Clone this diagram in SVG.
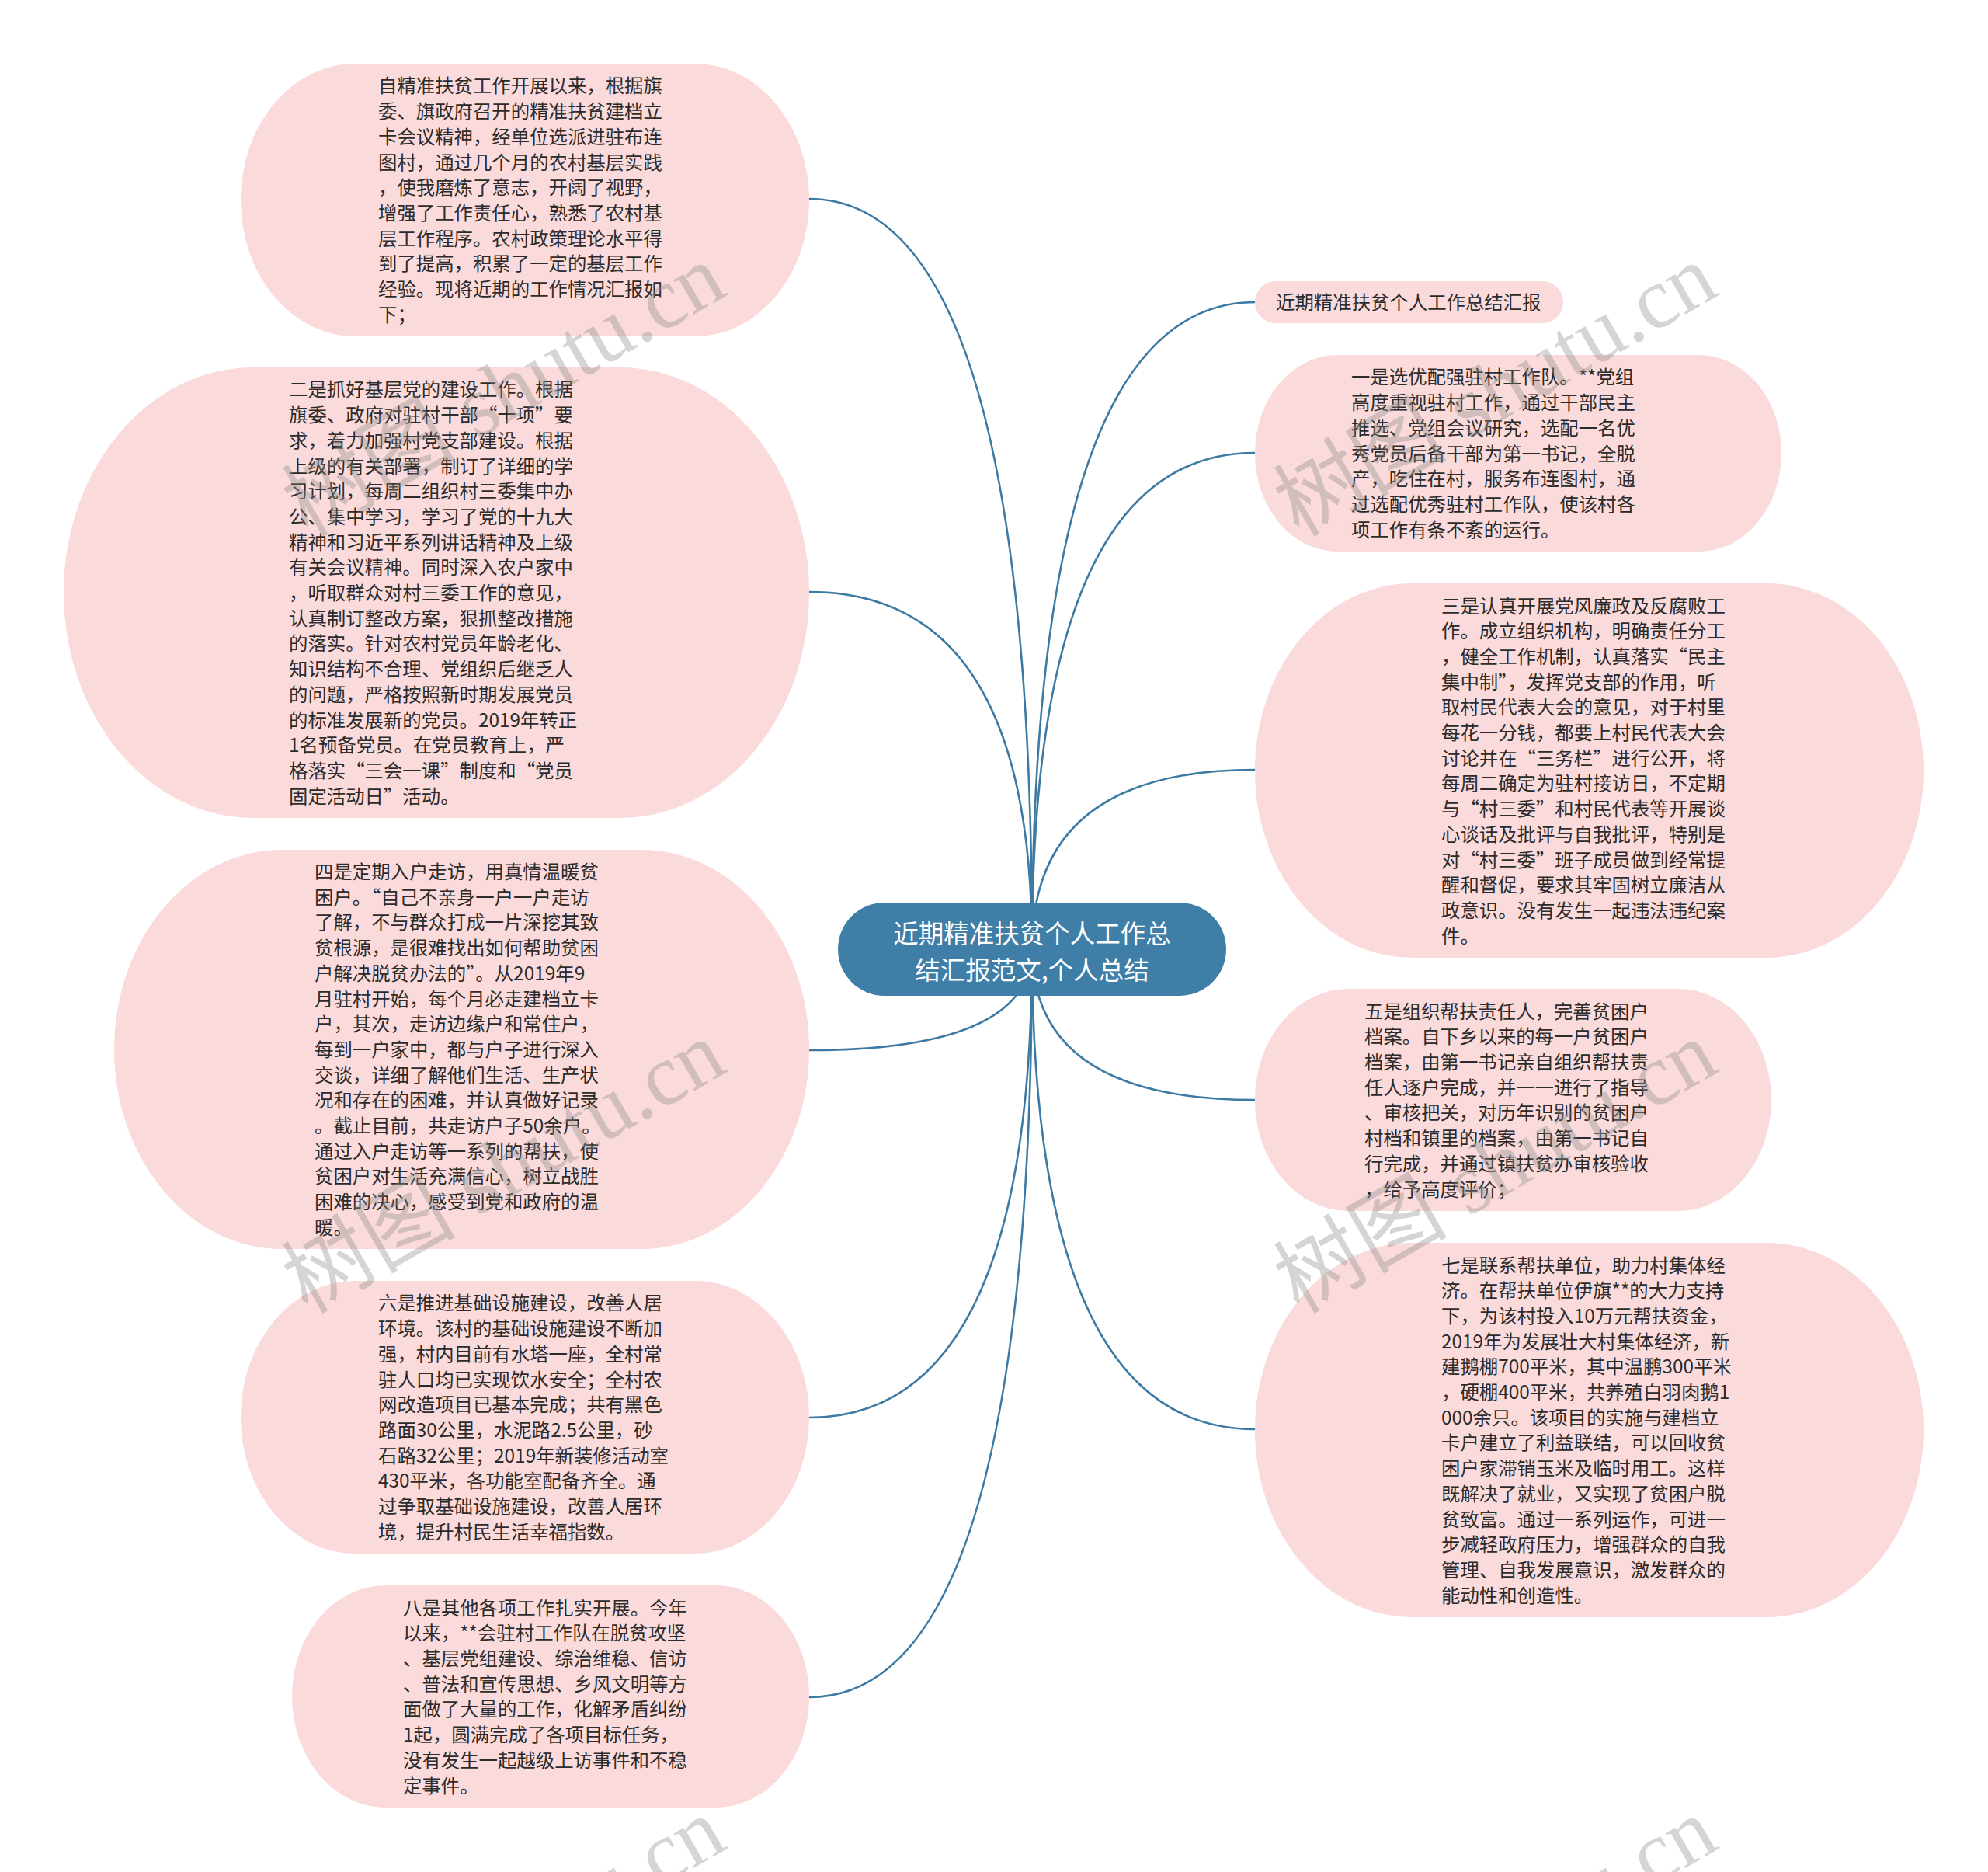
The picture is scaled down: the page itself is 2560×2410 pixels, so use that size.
<svg xmlns="http://www.w3.org/2000/svg" width="2560" height="2410" viewBox="0 0 2560 2410">
<style>
.node{fill:#fadada;}
.root{fill:#3f7ea6;}
.t{font-family:"Noto Sans CJK SC","Noto Sans",sans-serif;font-size:24.4px;fill:#2b2b2b;}
.rt{font-family:"Noto Sans CJK SC","Noto Sans",sans-serif;font-size:32.5px;fill:#ffffff;text-anchor:middle;}
.edge{fill:none;stroke:#3d7aa3;stroke-width:2.6;}
.wm{font-family:"Liberation Serif","Noto Sans CJK SC",serif;font-size:112px;fill:#8a8a8a;fill-opacity:0.36;text-anchor:middle;}
</style>
<rect x="0" y="0" width="2560" height="2410" fill="#ffffff"/>
<g id="connectors">
<path class="edge" d="M1329 1221 Q1329 256 1042 256"/>
<path class="edge" d="M1329 1221 Q1329 762 1042 762"/>
<path class="edge" d="M1329 1221 Q1329 1352 1042 1352"/>
<path class="edge" d="M1329 1221 Q1329 1825 1042 1825"/>
<path class="edge" d="M1329 1221 Q1329 2185 1042 2185"/>
<path class="edge" d="M1329 1221 Q1329 389 1616 389"/>
<path class="edge" d="M1329 1221 Q1329 583 1616 583"/>
<path class="edge" d="M1329 1221 Q1329 991 1616 991"/>
<path class="edge" d="M1329 1221 Q1329 1416 1616 1416"/>
<path class="edge" d="M1329 1221 Q1329 1840 1616 1840"/>
</g>
<g id="root">
<rect class="root" x="1079" y="1162" width="500" height="120" rx="60" ry="60"/>
<text class="rt" x="1329" y="1214">近期精准扶贫个人工作总</text>
<text class="rt" x="1329" y="1261">结汇报范文,个人总结</text>
</g>
<g id="n-left1">
<rect class="node" x="310" y="82" width="732" height="351" rx="147" ry="175.5"/>
<text class="t" x="487" y="119.4"><tspan x="487">自精准扶贫工作开展以来，根据旗</tspan><tspan x="487" dy="32.7">委、旗政府召开的精准扶贫建档立</tspan><tspan x="487" dy="32.7">卡会议精神，经单位选派进驻布连</tspan><tspan x="487" dy="32.7">图村，通过几个月的农村基层实践</tspan><tspan x="487" dy="32.7">，使我磨炼了意志，开阔了视野，</tspan><tspan x="487" dy="32.7">增强了工作责任心，熟悉了农村基</tspan><tspan x="487" dy="32.7">层工作程序。农村政策理论水平得</tspan><tspan x="487" dy="32.7">到了提高，积累了一定的基层工作</tspan><tspan x="487" dy="32.7">经验。现将近期的工作情况汇报如</tspan><tspan x="487" dy="32.7">下；</tspan></text>
</g>
<g id="n-left2">
<rect class="node" x="82" y="473" width="960" height="580" rx="244" ry="290"/>
<text class="t" x="372" y="510.4"><tspan x="372">二是抓好基层党的建设工作。根据</tspan><tspan x="372" dy="32.7">旗委、政府对驻村干部“十项”要</tspan><tspan x="372" dy="32.7">求，着力加强村党支部建设。根据</tspan><tspan x="372" dy="32.7">上级的有关部署，制订了详细的学</tspan><tspan x="372" dy="32.7">习计划，每周二组织村三委集中办</tspan><tspan x="372" dy="32.7">公、集中学习，学习了党的十九大</tspan><tspan x="372" dy="32.7">精神和习近平系列讲话精神及上级</tspan><tspan x="372" dy="32.7">有关会议精神。同时深入农户家中</tspan><tspan x="372" dy="32.7">，听取群众对村三委工作的意见，</tspan><tspan x="372" dy="32.7">认真制订整改方案，狠抓整改措施</tspan><tspan x="372" dy="32.7">的落实。针对农村党员年龄老化、</tspan><tspan x="372" dy="32.7">知识结构不合理、党组织后继乏人</tspan><tspan x="372" dy="32.7">的问题，严格按照新时期发展党员</tspan><tspan x="372" dy="32.7">的标准发展新的党员。2019年转正</tspan><tspan x="372" dy="32.7">1名预备党员。在党员教育上，严</tspan><tspan x="372" dy="32.7">格落实“三会一课”制度和“党员</tspan><tspan x="372" dy="32.7">固定活动日”活动。</tspan></text>
</g>
<g id="n-left3">
<rect class="node" x="147" y="1094" width="895" height="514" rx="216" ry="257"/>
<text class="t" x="405" y="1131"><tspan x="405">四是定期入户走访，用真情温暖贫</tspan><tspan x="405" dy="32.7">困户。“自己不亲身一户一户走访</tspan><tspan x="405" dy="32.7">了解，不与群众打成一片深挖其致</tspan><tspan x="405" dy="32.7">贫根源，是很难找出如何帮助贫困</tspan><tspan x="405" dy="32.7">户解决脱贫办法的”。从2019年9</tspan><tspan x="405" dy="32.7">月驻村开始，每个月必走建档立卡</tspan><tspan x="405" dy="32.7">户，其次，走访边缘户和常住户，</tspan><tspan x="405" dy="32.7">每到一户家中，都与户子进行深入</tspan><tspan x="405" dy="32.7">交谈，详细了解他们生活、生产状</tspan><tspan x="405" dy="32.7">况和存在的困难，并认真做好记录</tspan><tspan x="405" dy="32.7">。截止目前，共走访户子50余户。</tspan><tspan x="405" dy="32.7">通过入户走访等一系列的帮扶，使</tspan><tspan x="405" dy="32.7">贫困户对生活充满信心，树立战胜</tspan><tspan x="405" dy="32.7">困难的决心，感受到党和政府的温</tspan><tspan x="405" dy="32.7">暖。</tspan></text>
</g>
<g id="n-left4">
<rect class="node" x="310" y="1649" width="732" height="351" rx="147" ry="175.5"/>
<text class="t" x="487" y="1686.4"><tspan x="487">六是推进基础设施建设，改善人居</tspan><tspan x="487" dy="32.7">环境。该村的基础设施建设不断加</tspan><tspan x="487" dy="32.7">强，村内目前有水塔一座，全村常</tspan><tspan x="487" dy="32.7">驻人口均已实现饮水安全；全村农</tspan><tspan x="487" dy="32.7">网改造项目已基本完成；共有黑色</tspan><tspan x="487" dy="32.7">路面30公里，水泥路2.5公里，砂</tspan><tspan x="487" dy="32.7">石路32公里；2019年新装修活动室</tspan><tspan x="487" dy="32.7">430平米，各功能室配备齐全。通</tspan><tspan x="487" dy="32.7">过争取基础设施建设，改善人居环</tspan><tspan x="487" dy="32.7">境，提升村民生活幸福指数。</tspan></text>
</g>
<g id="n-left5">
<rect class="node" x="376" y="2041" width="666" height="286" rx="120" ry="143"/>
<text class="t" x="519" y="2078.6"><tspan x="519">八是其他各项工作扎实开展。今年</tspan><tspan x="519" dy="32.7">以来，**会驻村工作队在脱贫攻坚</tspan><tspan x="519" dy="32.7">、基层党组建设、综治维稳、信访</tspan><tspan x="519" dy="32.7">、普法和宣传思想、乡风文明等方</tspan><tspan x="519" dy="32.7">面做了大量的工作，化解矛盾纠纷</tspan><tspan x="519" dy="32.7">1起，圆满完成了各项目标任务，</tspan><tspan x="519" dy="32.7">没有发生一起越级上访事件和不稳</tspan><tspan x="519" dy="32.7">定事件。</tspan></text>
</g>
<g id="n-right1">
<rect class="node" x="1616" y="362" width="397" height="54" rx="27" ry="27"/>
<text class="t" x="1643" y="398">近期精准扶贫个人工作总结汇报</text>
</g>
<g id="n-right2">
<rect class="node" x="1616" y="457" width="678" height="253" rx="106" ry="126.5"/>
<text class="t" x="1740" y="494.4"><tspan x="1740">一是选优配强驻村工作队。**党组</tspan><tspan x="1740" dy="32.7">高度重视驻村工作，通过干部民主</tspan><tspan x="1740" dy="32.7">推选、党组会议研究，选配一名优</tspan><tspan x="1740" dy="32.7">秀党员后备干部为第一书记，全脱</tspan><tspan x="1740" dy="32.7">产，吃住在村，服务布连图村，通</tspan><tspan x="1740" dy="32.7">过选配优秀驻村工作队，使该村各</tspan><tspan x="1740" dy="32.7">项工作有条不紊的运行。</tspan></text>
</g>
<g id="n-right3">
<rect class="node" x="1616" y="751" width="861" height="482" rx="202" ry="241"/>
<text class="t" x="1856" y="788.5"><tspan x="1856">三是认真开展党风廉政及反腐败工</tspan><tspan x="1856" dy="32.7">作。成立组织机构，明确责任分工</tspan><tspan x="1856" dy="32.7">，健全工作机制，认真落实“民主</tspan><tspan x="1856" dy="32.7">集中制”，发挥党支部的作用，听</tspan><tspan x="1856" dy="32.7">取村民代表大会的意见，对于村里</tspan><tspan x="1856" dy="32.7">每花一分钱，都要上村民代表大会</tspan><tspan x="1856" dy="32.7">讨论并在“三务栏”进行公开，将</tspan><tspan x="1856" dy="32.7">每周二确定为驻村接访日，不定期</tspan><tspan x="1856" dy="32.7">与“村三委”和村民代表等开展谈</tspan><tspan x="1856" dy="32.7">心谈话及批评与自我批评，特别是</tspan><tspan x="1856" dy="32.7">对“村三委”班子成员做到经常提</tspan><tspan x="1856" dy="32.7">醒和督促，要求其牢固树立廉洁从</tspan><tspan x="1856" dy="32.7">政意识。没有发生一起违法违纪案</tspan><tspan x="1856" dy="32.7">件。</tspan></text>
</g>
<g id="n-right4">
<rect class="node" x="1616" y="1273" width="665" height="286" rx="120" ry="143"/>
<text class="t" x="1757" y="1310.6"><tspan x="1757">五是组织帮扶责任人，完善贫困户</tspan><tspan x="1757" dy="32.7">档案。自下乡以来的每一户贫困户</tspan><tspan x="1757" dy="32.7">档案，由第一书记亲自组织帮扶责</tspan><tspan x="1757" dy="32.7">任人逐户完成，并一一进行了指导</tspan><tspan x="1757" dy="32.7">、审核把关，对历年识别的贫困户</tspan><tspan x="1757" dy="32.7">村档和镇里的档案，由第一书记自</tspan><tspan x="1757" dy="32.7">行完成，并通过镇扶贫办审核验收</tspan><tspan x="1757" dy="32.7">，给予高度评价；</tspan></text>
</g>
<g id="n-right5">
<rect class="node" x="1616" y="1600" width="861" height="482" rx="202" ry="241"/>
<text class="t" x="1856" y="1637.5"><tspan x="1856">七是联系帮扶单位，助力村集体经</tspan><tspan x="1856" dy="32.7">济。在帮扶单位伊旗**的大力支持</tspan><tspan x="1856" dy="32.7">下，为该村投入10万元帮扶资金，</tspan><tspan x="1856" dy="32.7">2019年为发展壮大村集体经济，新</tspan><tspan x="1856" dy="32.7">建鹅棚700平米，其中温鹏300平米</tspan><tspan x="1856" dy="32.7">，硬棚400平米，共养殖白羽肉鹅1</tspan><tspan x="1856" dy="32.7">000余只。该项目的实施与建档立</tspan><tspan x="1856" dy="32.7">卡户建立了利益联结，可以回收贫</tspan><tspan x="1856" dy="32.7">困户家滞销玉米及临时用工。这样</tspan><tspan x="1856" dy="32.7">既解决了就业，又实现了贫困户脱</tspan><tspan x="1856" dy="32.7">贫致富。通过一系列运作，可进一</tspan><tspan x="1856" dy="32.7">步减轻政府压力，增强群众的自我</tspan><tspan x="1856" dy="32.7">管理、自我发展意识，激发群众的</tspan><tspan x="1856" dy="32.7">能动性和创造性。</tspan></text>
</g>
<g id="watermarks">
<text class="wm" x="650" y="540" transform="rotate(-30 650 505)">树图 shutu.cn</text>
<text class="wm" x="1927" y="540" transform="rotate(-30 1927 505)">树图 shutu.cn</text>
<text class="wm" x="650" y="1540" transform="rotate(-30 650 1505)">树图 shutu.cn</text>
<text class="wm" x="1927" y="1540" transform="rotate(-30 1927 1505)">树图 shutu.cn</text>
<text class="wm" x="650" y="2540" transform="rotate(-30 650 2505)">树图 shutu.cn</text>
<text class="wm" x="1927" y="2540" transform="rotate(-30 1927 2505)">树图 shutu.cn</text>
</g>
</svg>
